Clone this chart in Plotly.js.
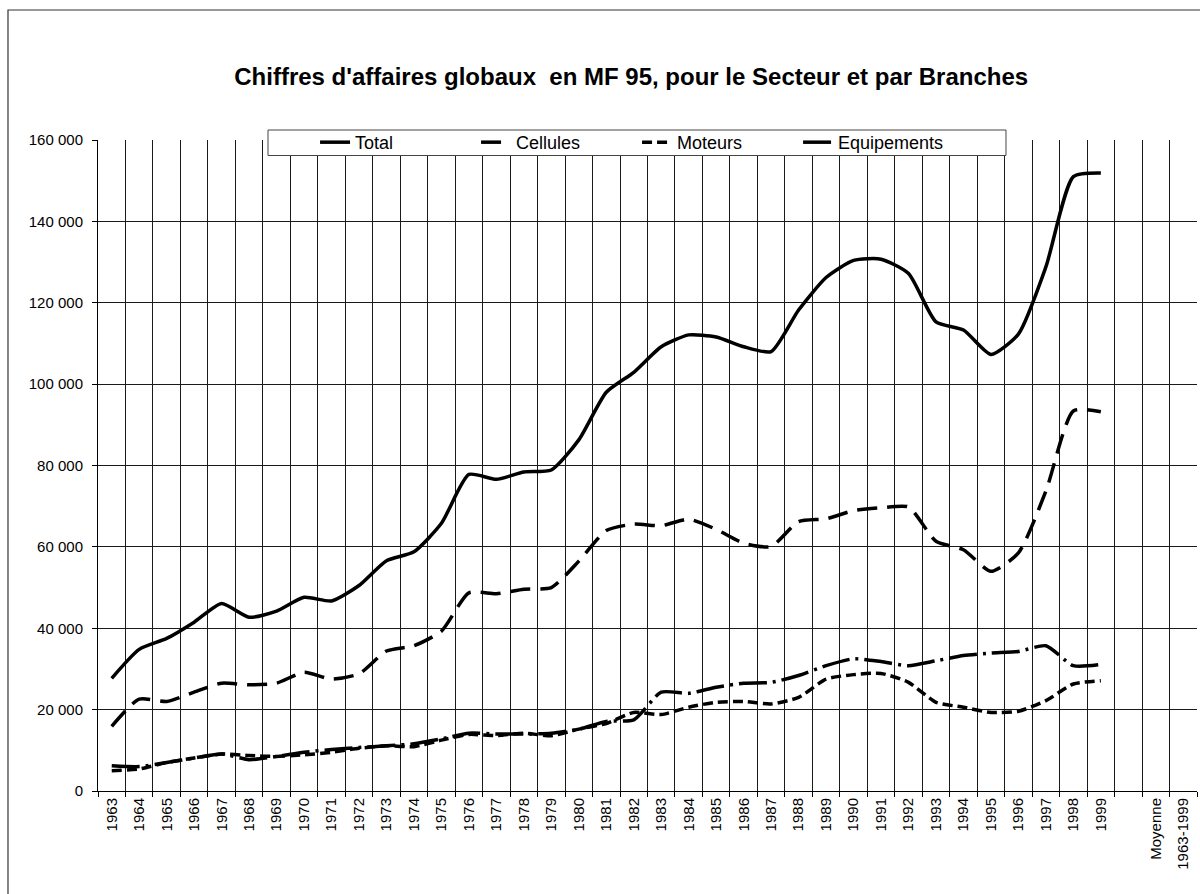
<!DOCTYPE html>
<html>
<head>
<meta charset="utf-8">
<script src="https://cdn.plot.ly/plotly-3.0.1.min.js"></script>
<style>
  html, body { margin: 0; padding: 0; background: #fff; }
  #chart { width: 1200px; height: 894px; }
</style>
</head>
<body>
<div id="chart"></div>
<script>
// ---- Data (MF 95) ----
const years = ["1963","1964","1965","1966","1967","1968","1969","1970","1971","1972",
  "1973","1974","1975","1976","1977","1978","1979","1980","1981","1982",
  "1983","1984","1985","1986","1987","1988","1989","1990","1991","1992",
  "1993","1994","1995","1996","1997","1998","1999"];
const extraCategories = ["\u00a0", "Moyenne", "1963-1999"];

const total = [27700,34800,37500,41500,46100,42700,44200,47600,46700,50500,
  56600,58800,65800,77800,76600,78400,78900,86300,98000,102900,
  109200,112100,111600,109200,108000,118200,126200,130400,130700,127200,
  115300,113300,107300,112300,128800,151000,151900];
const cellules = [15900,22600,22000,24300,26500,26100,26500,29200,27500,28800,
  34400,35700,39300,48700,48500,49600,50000,56500,64000,65600,
  65200,66800,64300,60900,60100,66200,66900,68900,69600,69800,
  61400,59300,54000,58500,73700,93400,93200];
const moteurs = [5000,5400,7000,8100,9100,8700,8500,8900,9500,10500,
  11100,10900,12500,13900,13600,14200,13600,15200,16600,19300,
  18800,20600,21800,22000,21400,23000,27500,28600,28900,26700,
  21800,20600,19300,19600,22200,26300,27100];
const equipements = [6200,6000,7000,8100,9100,7700,8500,9500,10200,10700,
  11100,11600,12800,14200,14000,14000,14200,15200,17100,17500,
  24300,24000,25500,26500,26700,28400,30800,32500,31800,30800,
  32000,33300,33900,34300,35700,30800,31100];

const allCategories = years.concat(extraCategories);

const seriesNames = ["Total", "Cellules", "Moteurs", "Equipements"];
const seriesValues = [total, cellules, moteurs, equipements];
const seriesDash = ["solid", "20px,10px", "10px,5px", "28px,6px,3px,6px"];

const traces = [{
  x: allCategories,
  y: allCategories.map(() => null),
  type: "scatter",
  mode: "lines",
  showlegend: false,
  hoverinfo: "skip",
  line: {color: "rgba(0,0,0,0)"}
}];
seriesNames.forEach((name, i) => {
  traces.push({
    x: years,
    y: seriesValues[i],
    name: name,
    type: "scatter",
    mode: "lines",
    line: {color: "#000", width: 3.5, dash: seriesDash[i], shape: "spline", smoothing: 0.6}
  });
});

const layout = {
  width: 1200,
  height: 894,
  paper_bgcolor: "#fff",
  plot_bgcolor: "#fff",
  separators: ", ",
  margin: {l: 98, r: 3, t: 140, b: 103, pad: 0},
  font: {family: "Arial, 'Liberation Sans', sans-serif", color: "#000"},
  title: {
    text: "<b>Chiffres d'affaires globaux  en MF 95, pour le Secteur et par Branches</b>",
    font: {size: 24, family: "Arial, 'Liberation Sans', sans-serif", color: "#000"},
    x: 0.526, xanchor: "center",
    y: 0.914, yanchor: "middle"
  },
  xaxis: {
    type: "category",
    categoryorder: "array",
    categoryarray: allCategories,
    range: [-0.5, allCategories.length - 0.5],
    tickson: "boundaries",
    tickmode: "linear", tick0: 0, dtick: 1,
    ticks: "outside", ticklen: 5, tickcolor: "#000", tickwidth: 1,
    tickangle: -90,
    tickfont: {size: 15},
    showgrid: true, gridcolor: "#1a1a1a", gridwidth: 1,
    showline: true, linecolor: "#000", linewidth: 1,
    zeroline: false, fixedrange: true
  },
  yaxis: {
    range: [0, 160000],
    dtick: 20000,
    tickformat: ",d",
    ticks: "outside", ticklen: 5, tickcolor: "#000", tickwidth: 1,
    ticklabelstandoff: 6,
    tickfont: {size: 15},
    showgrid: true, gridcolor: "#1a1a1a", gridwidth: 1,
    showline: true, linecolor: "#000", linewidth: 1,
    zeroline: false, fixedrange: true
  },
  legend: {
    orientation: "h",
    x: 0.1975, xanchor: "left",
    y: 0.9962, yanchor: "middle",
    bgcolor: "rgba(0,0,0,0)",
    borderwidth: 0,
    font: {size: 18},
    entrywidth: 116,
    entrywidthmode: "pixels",
    traceorder: "normal"
  },
  shapes: [{
    type: "rect", xref: "paper", yref: "paper",
    x0: -0.0819, x1: 1.6, y0: -0.6, y1: 1.1997,
    line: {color: "#333", width: 1.2},
    fillcolor: "rgba(0,0,0,0)",
    layer: "below"
  }, {
    type: "rect", xref: "paper", yref: "paper",
    x0: 0.1547, x1: 0.8262, y0: 0.97619, y1: 1.01536,
    line: {color: "#444", width: 1},
    fillcolor: "#fff",
    layer: "above"
  }]
};

Plotly.newPlot("chart", traces, layout, {displayModeBar: false, staticPlot: true});
</script>
</body>
</html>
